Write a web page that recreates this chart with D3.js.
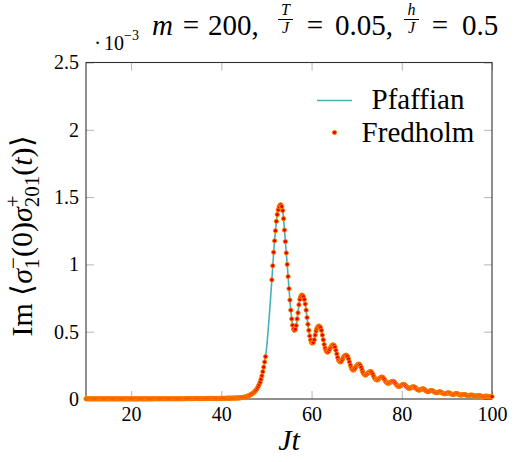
<!DOCTYPE html>
<html>
<head>
<meta charset="utf-8">
<script src="https://cdn.jsdelivr.net/npm/d3@7"></script>
<style>
  body { margin: 0; background: #fff; }
  svg { display: block; }
</style>
</head>
<body>
<svg id="chart" width="514" height="462"></svg>
<script>
// Jt grid: 10 .. 100 in steps of 0.2 (one row below = one unit of Jt)
const jtStart = 10;
const jtStep = 0.2;

// Im <sigma_1^-(0) sigma_201^+(t)>, in units of 1e-3
const imCorr = [
  0.001,0.001,0.001,0.001,0.001, // 10
  0.001,0.001,0.001,0.001,0.001, // 11
  0.001,0.001,0.001,0.001,0.001, // 12
  0.001,0.001,0.001,0.001,0.001, // 13
  0.001,0.001,0.001,0.001,0.001, // 14
  0.001,0.001,0.001,0.001,0.001, // 15
  0.001,0.001,0.001,0.001,0.001, // 16
  0.001,0.001,0.001,0.001,0.001, // 17
  0.001,0.001,0.001,0.001,0.001, // 18
  0.001,0.001,0.001,0.001,0.001, // 19
  0.001,0.001,0.001,0.001,0.001, // 20
  0.001,0.001,0.001,0.001,0.001, // 21
  0.001,0.001,0.001,0.001,0.001, // 22
  0.001,0.001,0.001,0.001,0.001, // 23
  0.001,0.001,0.001,0.001,0.001, // 24
  0.002,0.002,0.002,0.002,0.002, // 25
  0.002,0.002,0.002,0.002,0.002, // 26
  0.002,0.002,0.002,0.002,0.002, // 27
  0.002,0.002,0.002,0.002,0.002, // 28
  0.002,0.002,0.002,0.002,0.002, // 29
  0.002,0.002,0.002,0.002,0.002, // 30
  0.002,0.002,0.002,0.002,0.002, // 31
  0.003,0.003,0.003,0.003,0.003, // 32
  0.003,0.003,0.003,0.003,0.003, // 33
  0.003,0.003,0.003,0.003,0.003, // 34
  0.003,0.003,0.003,0.003,0.003, // 35
  0.003,0.003,0.003,0.003,0.003, // 36
  0.004,0.004,0.004,0.004,0.004, // 37
  0.004,0.004,0.004,0.004,0.004, // 38
  0.004,0.004,0.004,0.004,0.004, // 39
  0.005,0.005,0.005,0.005,0.005, // 40
  0.005,0.006,0.006,0.006,0.006, // 41
  0.006,0.006,0.007,0.007,0.007, // 42
  0.007,0.007,0.007,0.008,0.008, // 43
  0.008,0.009,0.010,0.011,0.012, // 44
  0.013,0.014,0.016,0.018,0.021, // 45
  0.024,0.027,0.030,0.034,0.038, // 46
  0.043,0.048,0.054,0.062,0.071, // 47
  0.082,0.095,0.109,0.125,0.147, // 48
  0.172,0.203,0.237,0.275,0.315, // 49
  0.370,0.440,0.520,0.605,0.695, // 50
  0.790,0.885,0.990,1.090,1.175, // 51
  1.250,1.320,1.370,1.405,1.428, // 52
  1.440,1.442,1.430,1.400,1.340, // 53
  1.255,1.170,1.085,1.000,0.910, // 54
  0.820,0.735,0.660,0.595,0.548, // 55
  0.520,0.510,0.518,0.545,0.595, // 56
  0.640,0.700,0.740,0.762,0.772, // 57
  0.770,0.760,0.740,0.705,0.660, // 58
  0.605,0.555,0.510,0.468,0.438, // 59
  0.420,0.415,0.420,0.440,0.475, // 60
  0.505,0.525,0.537,0.542,0.540, // 61
  0.530,0.510,0.475,0.440,0.405, // 62
  0.378,0.360,0.350,0.348,0.355, // 63
  0.368,0.382,0.393,0.400,0.402, // 64
  0.398,0.385,0.362,0.335,0.308, // 65
  0.288,0.278,0.275,0.280,0.292, // 66
  0.305,0.316,0.323,0.326,0.324, // 67
  0.315,0.298,0.275,0.252,0.232, // 68
  0.220,0.215,0.217,0.225,0.236, // 69
  0.247,0.255,0.259,0.258,0.250, // 70
  0.235,0.216,0.198,0.186,0.179, // 71
  0.178,0.182,0.189,0.196,0.201, // 72
  0.204,0.203,0.196,0.183,0.167, // 73
  0.154,0.146,0.142,0.142,0.146, // 74
  0.152,0.158,0.162,0.163,0.161, // 75
  0.154,0.143,0.131,0.123,0.118, // 76
  0.117,0.118,0.122,0.127,0.130, // 77
  0.131,0.130,0.125,0.116,0.106, // 78
  0.098,0.094,0.093,0.095,0.099, // 79
  0.104,0.107,0.108,0.107,0.102, // 80
  0.094,0.086,0.081,0.079,0.080, // 81
  0.083,0.087,0.090,0.091,0.089, // 82
  0.084,0.077,0.071,0.067,0.066, // 83
  0.067,0.070,0.073,0.075,0.075, // 84
  0.072,0.066,0.060,0.056,0.055, // 85
  0.056,0.059,0.062,0.063,0.062, // 86
  0.058,0.053,0.049,0.047,0.047, // 87
  0.049,0.052,0.053,0.053,0.050, // 88
  0.045,0.041,0.039,0.039,0.041, // 89
  0.044,0.046,0.046,0.044,0.040, // 90
  0.036,0.034,0.034,0.035,0.038, // 91
  0.040,0.040,0.038,0.034,0.031, // 92
  0.029,0.029,0.031,0.033,0.034, // 93
  0.033,0.030,0.027,0.025,0.025, // 94
  0.026,0.028,0.029,0.029,0.027, // 95
  0.024,0.022,0.021,0.022,0.024, // 96
  0.025,0.025,0.023,0.021,0.019, // 97
  0.018,0.019,0.020,0.021,0.021, // 98
  0.020,0.018,0.017,0.017,0.017, // 99
  0.018                          // 100
];

// Jt range where the Fredholm run has no points
const fredholmGap = [50, 51];

const xTicks = [20, 40, 60, 80, 100];
const yTicks = [0, 0.5, 1, 1.5, 2, 2.5];
const seriesNames = ["Pfaffian", "Fredholm"];

const lineColor = "#4aafbd";
const markFill = "#e60000";
const markStroke = "#ff8000";
const serif = "Liberation Serif";

const data = imCorr.map((v, i) => ({ jt: +(jtStart + i * jtStep).toFixed(1), v: v }));
const fredholm = data.filter(d => !(d.jt > fredholmGap[0] - 0.05 && d.jt < fredholmGap[1] + 0.05));

const svg = d3.select("#chart");

const x = d3.scaleLinear().domain([10, 100]).range([86, 492]);
const y = d3.scaleLinear().domain([0, 2.5]).range([399, 62.5]);

// ticks (inside, gray) on all four sides
const tickLen = 8;
function styleTicks(g) {
  g.attr("font-family", null).attr("font-size", null);
  g.select(".domain").remove();
  g.selectAll(".tick line").attr("stroke", "#b4b4b4").attr("stroke-width", 1);
  g.selectAll(".tick text")
    .attr("font-family", serif)
    .attr("font-size", 20)
    .attr("fill", "#000");
}

svg.append("g")
  .attr("transform", "translate(0,399)")
  .call(d3.axisBottom(x).tickValues(xTicks).tickSizeInner(-tickLen).tickSizeOuter(0).tickPadding(7.5).tickFormat(d3.format("d")))
  .call(styleTicks);

svg.append("g")
  .attr("transform", "translate(0,62.5)")
  .call(d3.axisTop(x).tickValues(xTicks).tickSizeInner(-tickLen).tickSizeOuter(0).tickFormat(""))
  .call(styleTicks);

svg.append("g")
  .attr("transform", "translate(86,0)")
  .call(d3.axisLeft(y).tickValues(yTicks).tickSizeInner(-tickLen).tickSizeOuter(0).tickPadding(7).tickFormat(d => String(d)))
  .call(styleTicks);

svg.append("g")
  .attr("transform", "translate(492,0)")
  .call(d3.axisRight(y).tickValues(yTicks).tickSizeInner(-tickLen).tickSizeOuter(0).tickFormat(""))
  .call(styleTicks);

// frame
svg.append("rect")
  .attr("x", x(10)).attr("y", y(2.5))
  .attr("width", x(100) - x(10)).attr("height", y(0) - y(2.5))
  .attr("fill", "none").attr("stroke", "#333").attr("stroke-width", 1.1);

// Pfaffian curve
const line = d3.line().x(d => x(d.jt)).y(d => y(d.v));
svg.append("path")
  .datum(data)
  .attr("d", line)
  .attr("fill", "none")
  .attr("stroke", lineColor)
  .attr("stroke-width", 1.6);

// Fredholm points
svg.append("g")
  .selectAll("circle")
  .data(fredholm)
  .join("circle")
  .attr("cx", d => x(d.jt))
  .attr("cy", d => y(d.v))
  .attr("r", 2.1)
  .attr("fill", markFill)
  .attr("stroke", markStroke)
  .attr("stroke-width", 1);

// legend
const leg = svg.append("g");
leg.append("line")
  .attr("x1", 317).attr("x2", 352).attr("y1", 100.5).attr("y2", 100.5)
  .attr("stroke", lineColor).attr("stroke-width", 1.6);
leg.append("circle")
  .attr("cx", 334.5).attr("cy", 132.5).attr("r", 2.1)
  .attr("fill", markFill).attr("stroke", markStroke).attr("stroke-width", 1);
leg.selectAll("text")
  .data(seriesNames)
  .join("text")
  .attr("x", 418)
  .attr("y", (d, i) => 109 + i * 32.5)
  .attr("text-anchor", "middle")
  .attr("font-family", serif)
  .attr("font-size", 29)
  .text(d => d);

// scale factor  ·10^-3
svg.append("text").attr("x", 97.5).attr("y", 50).attr("text-anchor", "middle")
  .attr("font-family", serif).attr("font-size", 20).text("·");
svg.append("text").attr("x", 104).attr("y", 50)
  .attr("font-family", serif).attr("font-size", 20).text("10");
svg.append("text").attr("x", 124).attr("y", 39.5)
  .attr("font-family", serif).attr("font-size", 14).text("−3");

// title: m = 200, T/J = 0.05, h/J = 0.5
const title = svg.append("g").attr("font-family", serif);
function tpiece(txt, cx, anchor, italic) {
  title.append("text")
    .attr("x", cx).attr("y", 35)
    .attr("text-anchor", anchor)
    .attr("font-size", 29)
    .attr("font-style", italic ? "italic" : "normal")
    .text(txt);
}
function frac(num, den, cx) {
  title.append("text").attr("x", cx).attr("y", 15).attr("text-anchor", "middle")
    .attr("font-size", 16).attr("font-style", "italic").text(num);
  title.append("line").attr("x1", cx - 7.5).attr("x2", cx + 7.5).attr("y1", 19.5).attr("y2", 19.5)
    .attr("stroke", "#000").attr("stroke-width", 1);
  title.append("text").attr("x", cx).attr("y", 33).attr("text-anchor", "middle")
    .attr("font-size", 16).attr("font-style", "italic").text(den);
}
tpiece("m", 162.5, "middle", true);
tpiece("=", 191, "middle", false);
tpiece("200,", 208, "start", false);
frac("T", "J", 285.5);
tpiece("=", 315, "middle", false);
tpiece("0.05,", 335, "start", false);
frac("h", "J", 411.5);
tpiece("=", 440, "middle", false);
tpiece("0.5", 462, "start", false);

// x label
svg.append("text")
  .attr("x", (x(10) + x(100)) / 2).attr("y", 450)
  .attr("text-anchor", "middle")
  .attr("font-family", serif)
  .attr("font-size", 30).attr("font-style", "italic")
  .text("Jt");

// y label: Im <sigma_1^-(0) sigma_201^+(t)>
const yl = svg.append("text")
  .attr("transform", "translate(32,236) rotate(-90)")
  .attr("text-anchor", "middle")
  .attr("font-family", serif)
  .attr("font-size", 30);
function ts(txt, opts) {
  const t = yl.append("tspan").text(txt);
  if (opts && opts.italic) t.attr("font-style", "italic");
  if (opts && opts.size) t.attr("font-size", opts.size);
  if (opts && opts.dx) t.attr("dx", opts.dx);
  if (opts && opts.dy) t.attr("dy", opts.dy);
  return t;
}
function subsup(sub, sup) {
  const a = ts(sub, { size: 21, dy: 7 });
  const wa = a.node().getComputedTextLength();
  const b = ts(sup, { size: 21, dx: -wa, dy: -19 });
  const wb = b.node().getComputedTextLength();
  return { shift: Math.max(0, wa - wb), back: 12 };
}
ts("Im ⟨");
ts("σ", { italic: true });
let s = subsup("1", "−");
ts("(0)", { dx: s.shift, dy: s.back });
ts("σ", { italic: true });
s = subsup("201", "+");
ts("(", { dx: s.shift, dy: s.back });
ts("t", { italic: true });
ts(")⟩");
</script>
</body>
</html>
